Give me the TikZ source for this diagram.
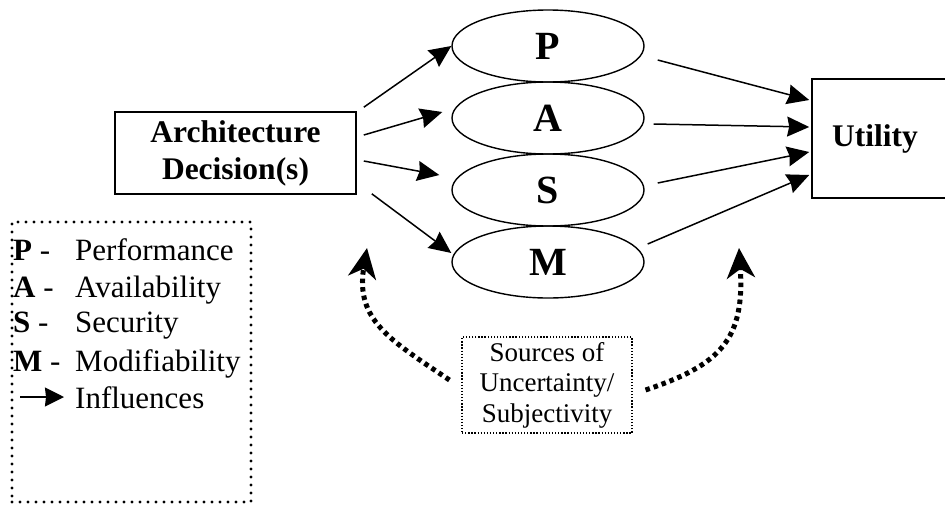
\documentclass[tikz,border=0pt]{standalone}
\usepackage{fontspec}
\setmainfont{Liberation Serif}
\usetikzlibrary{arrows.meta,shapes.geometric,calc}
\tikzset{
  boxnode/.style={draw, line width=1.6pt, inner sep=0pt},
  qual/.style={draw, ellipse, line width=1.4pt, minimum width=192pt, minimum height=72pt, inner sep=0pt, font=\fontsize{40}{42}\selectfont\bfseries},
  arr/.style={line width=1.5pt, -{Stealth[length=22pt,width=20pt,inset=2pt]}},
  unc/.style={line width=5pt, dash pattern=on 4.5pt off 4pt, -{Stealth[length=30pt,width=28pt,inset=9pt]}},
  legtxt/.style={anchor=base west, inner sep=0pt, font=\fontsize{31}{36}\selectfont},
}
\begin{document}
\begin{tikzpicture}[x=1pt,y=-1pt]
\useasboundingbox (0,0) rectangle (945,504);
% nodes
\node[boxnode, minimum width=241pt, minimum height=82pt, align=center,
      font=\fontsize{31.5}{37}\selectfont\bfseries] (arch) at (235.5,153) {Architecture\\Decision(s)};
\node[qual] (P) at (548,46) {P};
\node[qual] (A) at (548,118) {A};
\node[qual] (S) at (548,190) {S};
\node[qual] (M) at (548,262) {M};
\node[boxnode, minimum width=140pt, minimum height=119pt,
      font=\fontsize{31.5}{37}\selectfont\bfseries] (util) at (882,138.5) {\hspace*{-14pt}Utility};
% legend
\node[draw, line width=3.3pt, line cap=round, dash pattern=on 0pt off 8pt,
      minimum width=239pt, minimum height=280pt, inner sep=0pt] (legend) at (131.5,362) {};
\node[legtxt] (lp) at (13,260.5) {\textbf{P} -};
\node[legtxt] (lpt) at (75,260.5) {Performance};
\node[legtxt] (la) at (13,297.5) {\textbf{A} -};
\node[legtxt] (lat) at (75,297.5) {Availability};
\node[legtxt] (ls) at (13,332.5) {\textbf{S} -};
\node[legtxt] (lst) at (75,332.5) {Security};
\node[legtxt] (lm) at (13,371.5) {\textbf{M} -};
\node[legtxt] (lmt) at (75,371.5) {Modifiability};
\node[legtxt] (lit) at (75,408) {Influences};
\coordinate (li1) at (20,397);
\coordinate (li2) at (64,397);
\draw[line width=1.6pt, -{Stealth[length=19pt,width=19pt,inset=1pt]}] (li1) -- (li2);
% sources
\node[draw, line width=1.1pt, dash pattern=on 1.3pt off 1.8pt,
      minimum width=170pt, minimum height=96pt, inner sep=0pt, align=center,
      font=\fontsize{27}{30.5}\selectfont] (src) at (547,385) {Sources of\\Uncertainty/\\Subjectivity};
% influences
\draw[arr] ($(arch.north east)+(7,-4)$) -- (P.west);
\draw[arr] ($(arch.east)+(7,-18)$) -- ($(A.west)+(-9,-6)$);
\draw[arr] ($(arch.east)+(7,8)$) -- ($(S.west)+(-12,-15)$);
\draw[arr] ($(arch.south east)+(15,-1)$) -- ($(M.west)+(0,-9)$);
\draw[arr] ($(P.east)+(13,14)$) -- ($(util.west)+(-2,-38.5)$);
\draw[arr] ($(A.east)+(9,6)$) -- ($(util.west)+(-2,-11.5)$);
\draw[arr] ($(S.east)+(13,-7)$) -- ($(util.west)+(-2,13.5)$);
\draw[arr] ($(M.east)+(3,-18)$) -- ($(util.west)+(-2,36.5)$);
% uncertainty
\coordinate (ul) at (367,248);
\coordinate (ur) at (739,248);
\draw[unc] ($(src.west)+(-12,-5)$) .. controls (390,340) and (355,320) .. (ul);
\draw[unc] ($(src.east)+(13,5)$) .. controls (720,365) and (745,340) .. (ur);
\end{tikzpicture}
\end{document}
